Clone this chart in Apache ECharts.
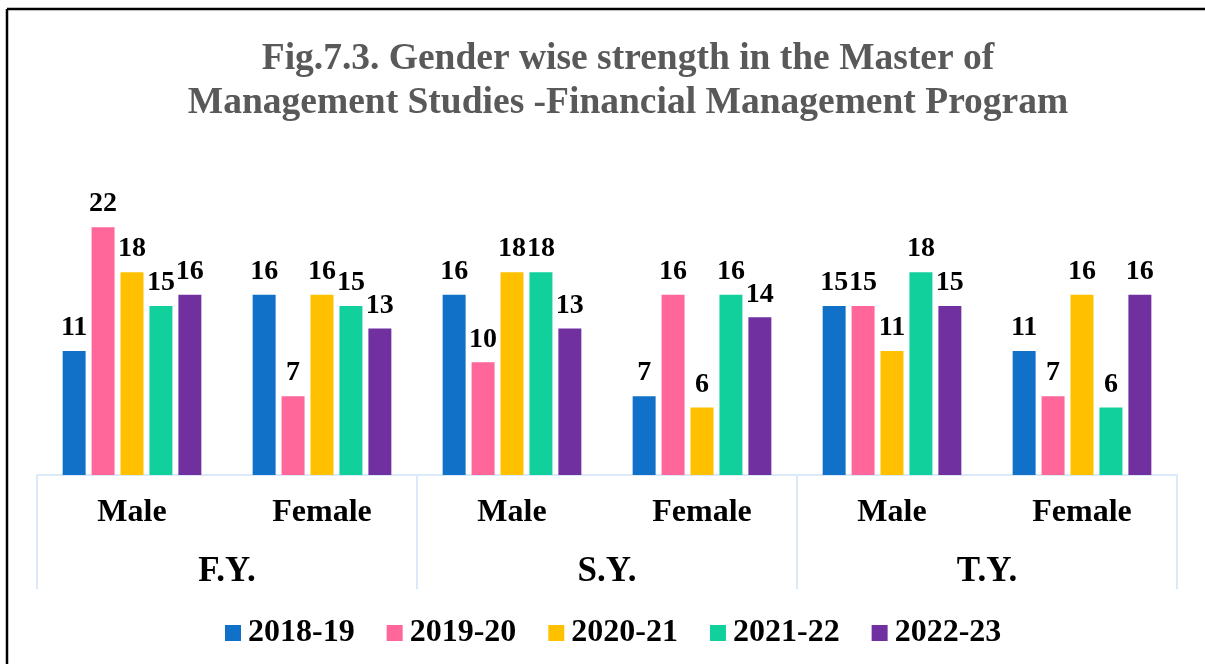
<!DOCTYPE html>
<html>
<head>
<meta charset="utf-8">
<script src="https://cdn.jsdelivr.net/npm/echarts@6/dist/echarts.min.js"></script>
<style>html,body{margin:0;padding:0;background:#fff}#c{width:1205px;height:664px}</style>
</head>
<body>
<div id="c"></div>
<script>
const categories = ['Male', 'Female', 'Male', 'Female', 'Male', 'Female'];
const groups = ['F.Y.', 'S.Y.', 'T.Y.'];
const seriesNames = ['2018-19', '2019-20', '2020-21', '2021-22', '2022-23'];
const s2018 = [11, 16, 16, 7, 15, 11];
const s2019 = [22, 7, 10, 16, 15, 7];
const s2020 = [18, 16, 18, 6, 11, 16];
const s2021 = [15, 15, 18, 16, 18, 6];
const s2022 = [16, 13, 13, 14, 15, 16];
const colors = ['#1170C8', '#FF6699', '#FFC000', '#12D09C', '#7030A0'];
const titleText = 'Fig.7.3. Gender wise strength in the Master of\nManagement Studies -Financial Management Program';

const font = "'Liberation Serif', 'Times New Roman', serif";
const values = [s2018, s2019, s2020, s2021, s2022];
const chart = echarts.init(document.getElementById('c'));
chart.setOption({
  animation: false,
  color: colors,
  title: {
    text: titleText,
    left: 623,
    top: 32,
    textAlign: 'center',
    textStyle: { fontFamily: font, fontWeight: 'bold', fontSize: 37.5, color: '#595959', lineHeight: 44 }
  },
  legend: {
    data: seriesNames,
    top: 612,
    left: 220,
    icon: 'rect',
    itemWidth: 16,
    itemHeight: 16,
    itemGap: 32,
    textStyle: { fontFamily: font, fontWeight: 'bold', fontSize: 32, color: '#000', padding: [0, 0, 0, 2] }
  },
  grid: { left: 37, right: 28, top: 137, bottom: 189, containLabel: false },
  xAxis: [
    {
      type: 'category',
      data: categories,
      axisLine: { lineStyle: { color: '#DCE9F8', width: 2 } },
      axisTick: { show: false },
      axisLabel: { margin: 22, fontFamily: font, fontWeight: 'bold', fontSize: 32, color: '#000' }
    },
    {
      type: 'category',
      data: groups,
      position: 'bottom',
      axisLine: { show: false },
      axisTick: { show: true, length: 114, lineStyle: { color: '#DCE9F8', width: 2 } },
      axisLabel: { margin: 79, fontFamily: font, fontWeight: 'bold', fontSize: 35, color: '#000' }
    }
  ],
  yAxis: { type: 'value', min: 0, max: 30, show: false, splitLine: { show: false } },
  series: seriesNames.map((n, i) => ({
    name: n,
    type: 'bar',
    xAxisIndex: 0,
    data: values[i],
    barGap: '26%',
    barCategoryGap: '27%',
    label: {
      show: true, position: 'top', distance: 9,
      fontFamily: font, fontWeight: 'bold', fontSize: 28, color: '#000'
    }
  })),
  graphic: [
    { type: 'line', shape: { x1: 7, y1: 9, x2: 1205, y2: 9 }, style: { stroke: '#000', lineWidth: 2.5 } },
    { type: 'line', shape: { x1: 7, y1: 9, x2: 7, y2: 664 }, style: { stroke: '#000', lineWidth: 2.5 } }
  ]
});
</script>
</body>
</html>
